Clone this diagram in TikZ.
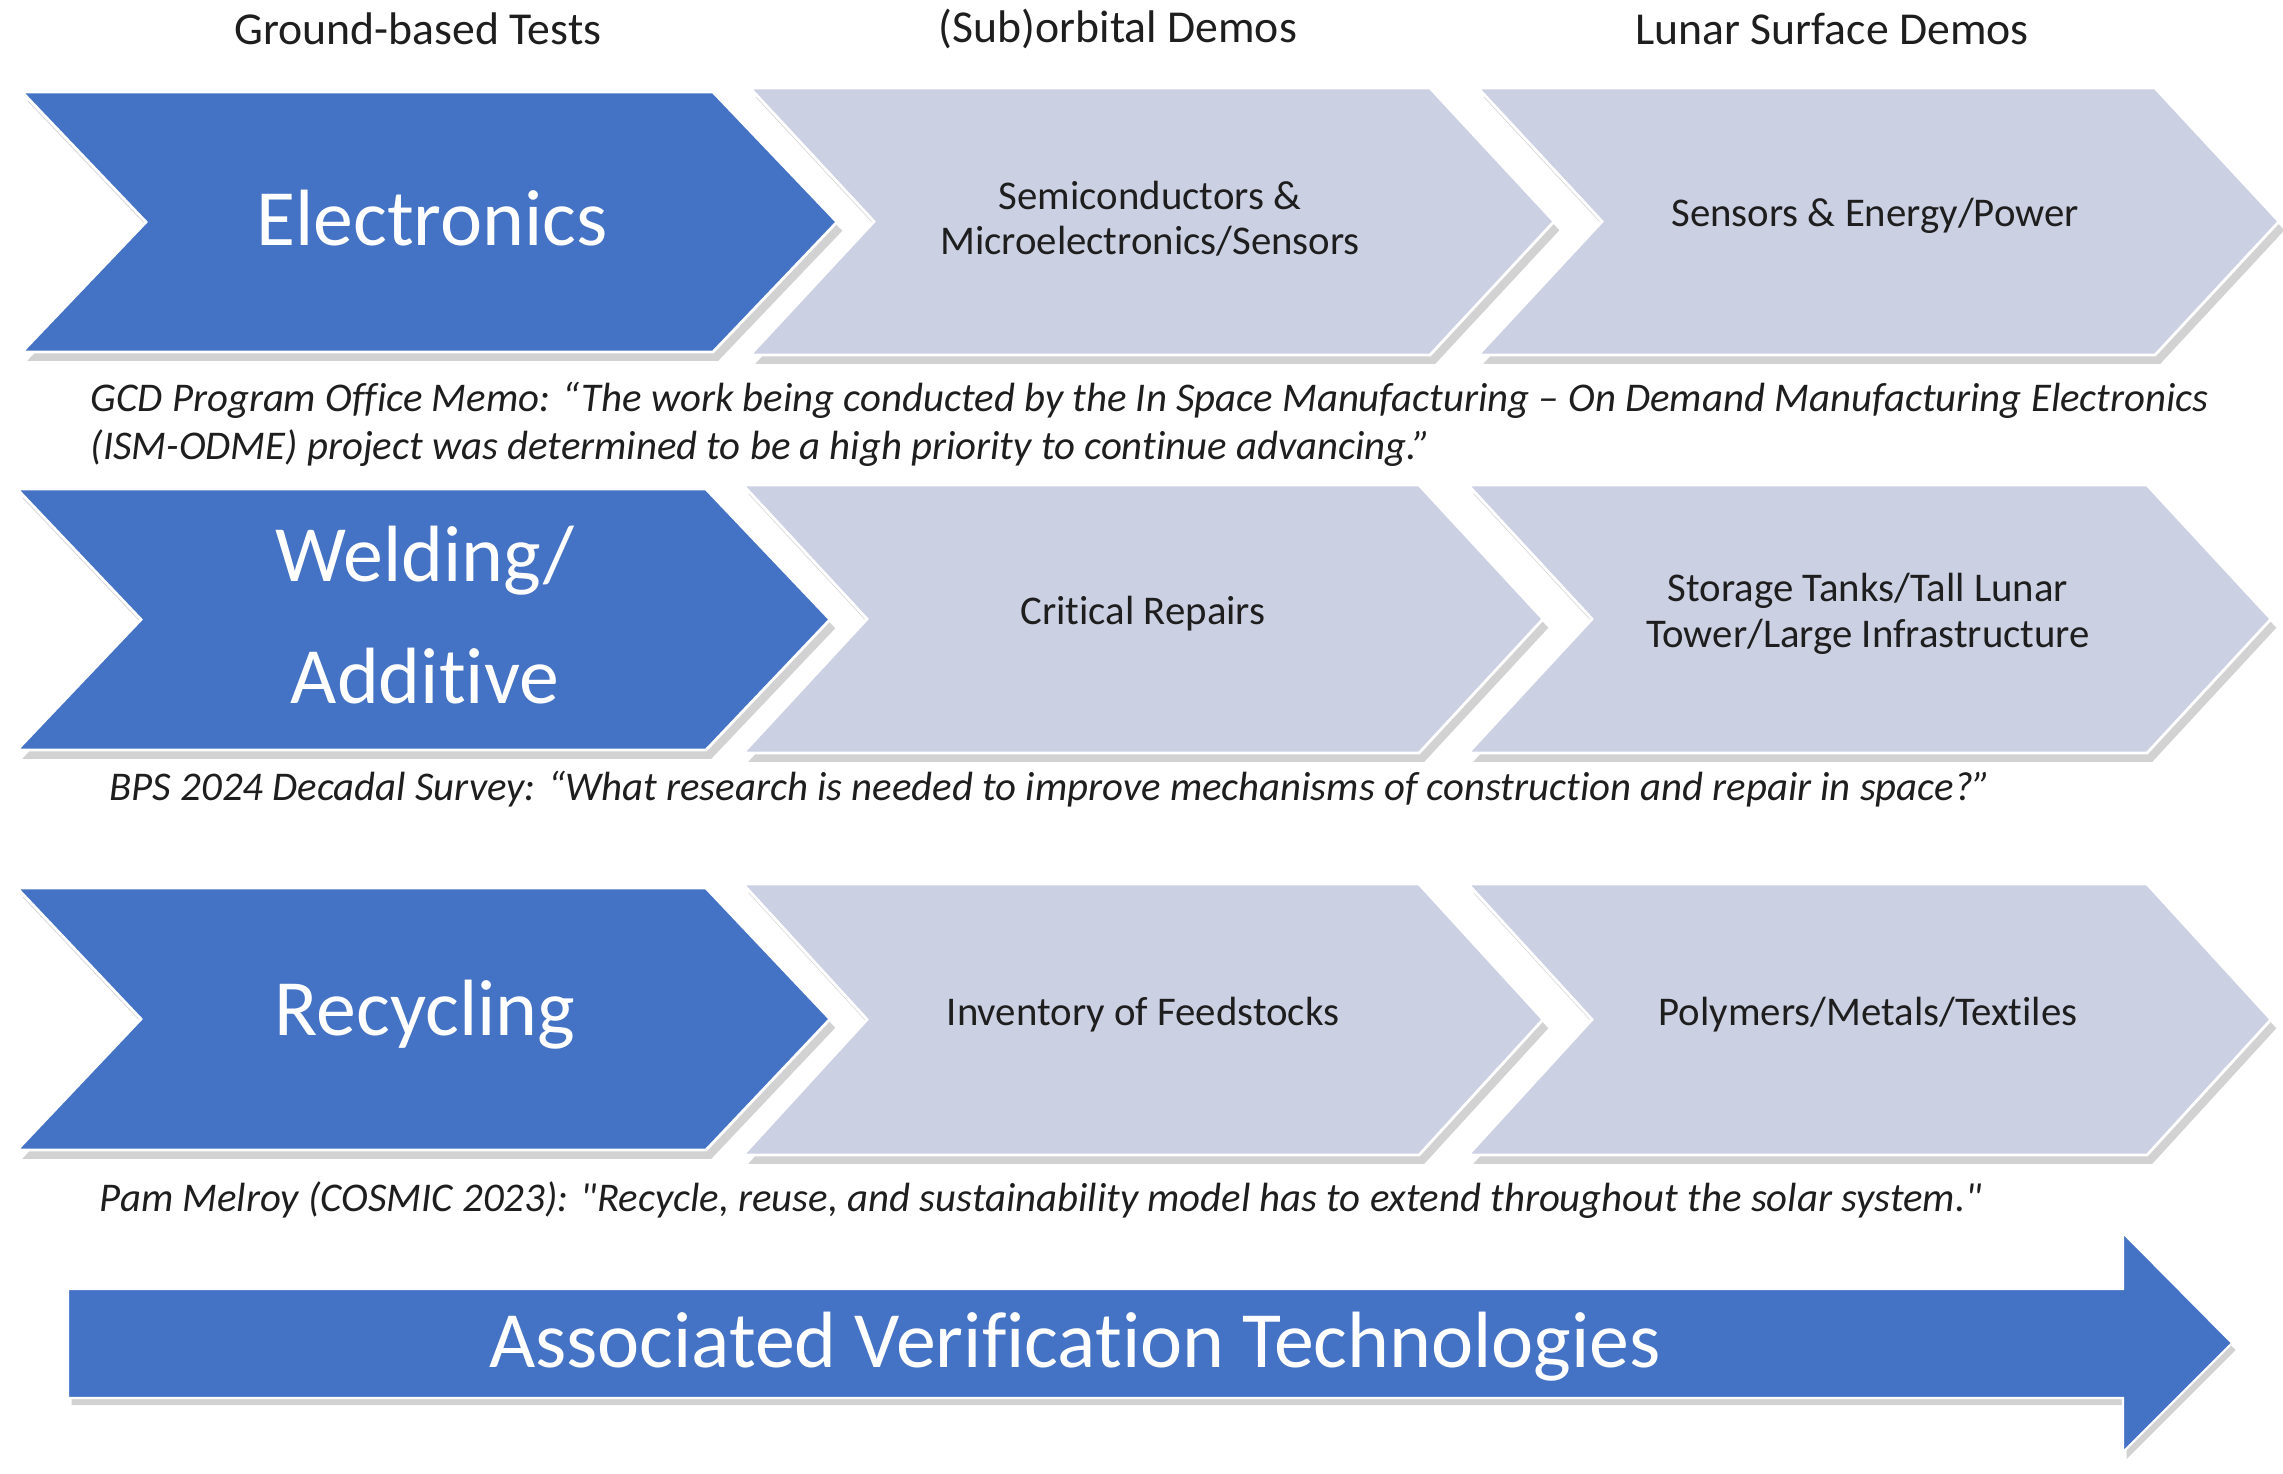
\documentclass[tikz,border=0pt]{standalone}
\usepackage{fontspec}
\setmainfont{Carlito}[Ligatures={NoCommon,TeXOff}]
\usetikzlibrary{shadows}
\definecolor{accblue}{RGB}{68,114,196}
\definecolor{lav}{RGB}{203,208,227}
\definecolor{txtdark}{RGB}{30,30,30}
\newcommand\chevshape[5]{%
  \path[#1] (#2,#4) -- (#3,#4) -- ({#3+124},{(#4+#5)/2}) -- (#3,#5) -- (#2,#5) -- ({#2+124},{(#4+#5)/2}) -- cycle;}
\begin{document}
\begin{tikzpicture}[x=0.01cm,y=-0.01cm,
  bluechev/.style={fill=accblue, draw=white, line width=0.8pt,
    drop shadow={shadow xshift=1.5pt, shadow yshift=-2.5pt, opacity=0.35}},
  lavchev/.style={fill=lav, draw=white, line width=0.8pt,
    drop shadow={shadow xshift=1.5pt, shadow yshift=-2.5pt, opacity=0.35}},
  bigtxt/.style={text=white, font=\fontsize{22.7}{35}\selectfont, align=center, inner sep=0pt},
  boxtxt/.style={text=txtdark, font=\fontsize{11.6}{12.9}\selectfont, align=center, inner sep=0pt},
  headtxt/.style={text=txtdark, font=\fontsize{13}{15}\selectfont, inner sep=0pt},
  quotetxt/.style={text=txtdark, font=\fontsize{11.6}{13.6}\selectfont\itshape, align=left, inner sep=0pt, anchor=west}]
\useasboundingbox[fill=white] (0,0) rectangle (2283,1473);

% headers
\node[headtxt] (h1) at (418,29) {Ground-based Tests};
\node[headtxt] (h2) at (1118,29) {(Sub)orbital Demos};
\node[headtxt] (h3) at (1832,29) {Lunar Surface Demos};

% row 1
\chevshape{bluechev}{22}{713}{92}{352}
\chevshape{lavchev}{750}{1430}{88}{355}
\chevshape{lavchev}{1478}{2155}{88}{355}
\node[bigtxt] (e1) at (432,218) {Electronics};
\node[boxtxt] (e2) at (1150,219) {Semiconductors \&\\Microelectronics/Sensors};
\node[boxtxt] (e3) at (1875,216) {Sensors \& Energy/Power};
\node[quotetxt] (q1) at (90,424) {GCD Program Office Memo: “The work being conducted by the In Space Manufacturing – On Demand Manufacturing Electronics\\(ISM-ODME) project was determined to be a high priority to continue advancing.”};

% row 2
\chevshape{bluechev}{17}{706}{489}{750}
\chevshape{lavchev}{743}{1419}{485}{753}
\chevshape{lavchev}{1468}{2147}{485}{753}
\node[bigtxt, font=\fontsize{22.7}{34.7}\selectfont] (w1) at (425,615) {Welding/\\Additive};
\node[boxtxt] (w2) at (1143,614) {Critical Repairs};
\node[boxtxt] (w3) at (1868,614) {Storage Tanks/Tall Lunar\\Tower/Large Infrastructure};
\node[quotetxt] (q2) at (109,789) {BPS 2024 Decadal Survey: “What research is needed to improve mechanisms of construction and repair in space?”};

% row 3
\chevshape{bluechev}{17}{706}{888}{1150}
\chevshape{lavchev}{743}{1419}{884}{1155}
\chevshape{lavchev}{1468}{2147}{884}{1155}
\node[bigtxt] (r1) at (425,1015) {Recycling};
\node[boxtxt] (r2) at (1143,1015) {Inventory of Feedstocks};
\node[boxtxt] (r3) at (1868,1015) {Polymers/Metals/Textiles};
\node[quotetxt] (q3) at (99,1200) {Pam Melroy (COSMIC 2023): "Recycle, reuse, and sustainability model has to extend throughout the solar system."};

% big arrow
\path[fill=accblue, draw=white, line width=0.6pt,
  drop shadow={shadow xshift=1pt, shadow yshift=-2pt, opacity=0.35}]
  (68,1289) -- (2123,1289) -- (2123,1233) -- (2232,1343) -- (2123,1452) -- (2123,1398) -- (68,1398) -- cycle;
\node[bigtxt] (avt) at (1075,1347) {Associated Verification Technologies};
\end{tikzpicture}
\end{document}
